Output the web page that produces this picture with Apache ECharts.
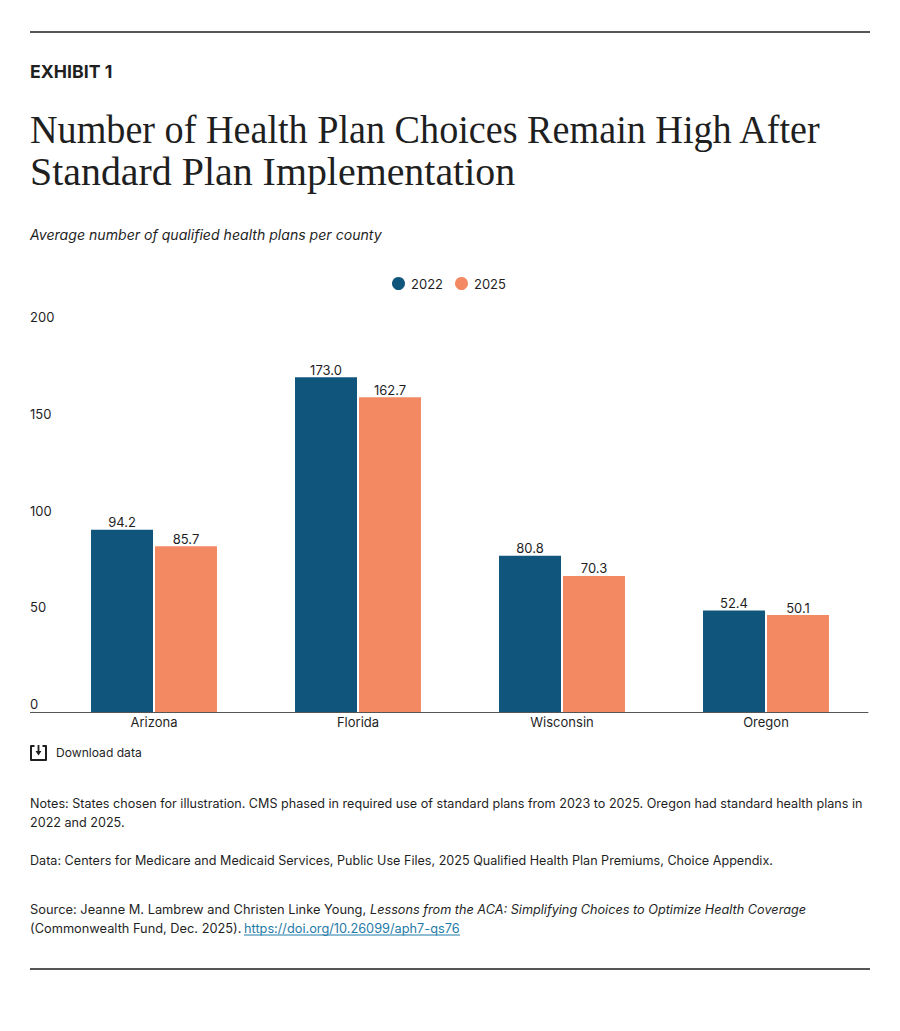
<!DOCTYPE html>
<html><head><meta charset="utf-8">
<style>html,body{margin:0;padding:0;background:#fff}#c{width:900px;height:1031px}</style>
<script src="https://cdn.jsdelivr.net/npm/echarts@6/dist/echarts.min.js"></script>
</head><body><div id="c"></div>
<script>
const categories = ['Arizona','Florida','Wisconsin','Oregon'];
const values2022 = [94.2,173.0,80.8,52.4];
const values2025 = [85.7,162.7,70.3,50.1];
const yTicks = [0,50,100,150,200];
const SANS = 'Inter, "Noto Sans", sans-serif';
const SERIF = '"Liberation Serif", "DejaVu Serif", serif';
const INK = '#1f1f1f';
const chart = echarts.init(document.getElementById('c'), null, {renderer:'svg'});
function txt(x,y,text,fs,extra,el){
  return Object.assign({type:'text',x:x,y:y,silent:true,style:Object.assign({text:text,fill:INK,font:'400 '+fs+'px '+SANS,textVerticalAlign:'middle'},extra||{})},el||{});
}
const barLabel = {show:true,position:'top',distance:1,color:INK,fontFamily:SANS,fontSize:13,formatter:p=>p.value.toFixed(1)};
chart.setOption({
  animation:false,
  backgroundColor:'#fff',
  legend:{top:272,left:387,itemGap:12,itemWidth:13,itemHeight:13,icon:'circle',
    textStyle:{color:INK,fontFamily:SANS,fontSize:13,padding:[0,0,4,1]},data:['2022','2025']},
  grid:{left:52,right:32,top:325,height:387},
  xAxis:{type:'category',data:categories,
    axisLine:{lineStyle:{color:'#555',width:1}},axisTick:{show:false},
    axisLabel:{color:INK,fontFamily:SANS,fontSize:13,margin:3,verticalAlign:'top'}},
  yAxis:{type:'value',min:0,max:200,interval:50,
    axisLine:{show:false},axisTick:{show:false},splitLine:{show:false},
    axisLabel:{color:INK,fontFamily:SANS,fontSize:13,align:'left',margin:22,verticalAlign:'bottom',lineHeight:16,
      formatter:v=>yTicks.includes(v)?String(v):''}},
  series:[
    {name:'2022',type:'bar',data:values2022,barWidth:62,barGap:'3.2%',itemStyle:{color:'#10567c'},label:barLabel},
    {name:'2025',type:'bar',data:values2025,barWidth:62,itemStyle:{color:'#f38962'},label:barLabel}
  ],
  graphic:{elements:[
    {type:'line',silent:true,shape:{x1:30,y1:32,x2:870,y2:32},style:{stroke:'#555',lineWidth:2}},
    {type:'line',silent:true,shape:{x1:30,y1:969,x2:870,y2:969},style:{stroke:'#555',lineWidth:2}},
    {type:'line',silent:true,shape:{x1:30,y1:712.5,x2:52,y2:712.5},style:{stroke:'#555',lineWidth:1}},
    txt(30,71.5,'EXHIBIT 1',17.7,{font:'700 17.7px '+SANS}),
    txt(30,130,'Number of Health Plan Choices Remain High After',39,{font:'400 39px '+SERIF},{scaleX:0.979}),
    txt(30,172,'Standard Plan Implementation',39,{font:'400 39px '+SERIF},{scaleX:1.023}),
    txt(30,234.5,'Average number of qualified health plans per county',14.1,{font:'italic 400 14.1px '+SANS}),
    {type:'group',silent:true,children:[
      {type:'polyline',shape:{points:[[34.5,746],[31,746],[31,760],[46,760],[46,746],[42.5,746]]},style:{stroke:INK,lineWidth:2,fill:'none',lineJoin:'round'}},
      {type:'line',shape:{x1:38.5,y1:745,x2:38.5,y2:753},style:{stroke:INK,lineWidth:1.8}},
      {type:'polygon',shape:{points:[[35.5,751],[41.5,751],[38.5,755.5]]},style:{fill:INK}}
    ]},
    txt(56,752.5,'Download data',12.1),
    txt(30,803,'Notes: States chosen for illustration. CMS phased in required use of standard plans from 2023 to 2025. Oregon had standard health plans in',12.6),
    txt(30,822,'2022 and 2025.',12.6),
    txt(30,860,'Data: Centers for Medicare and Medicaid Services, Public Use Files, 2025 Qualified Health Plan Premiums, Choice Appendix.',12.6),
    txt(30,909,'Source: Jeanne M. Lambrew and Christen Linke Young,',12.85),
    txt(370,909,'Lessons from the ACA: Simplifying Choices to Optimize Health Coverage',12.7,{font:'italic 400 12.7px '+SANS}),
    txt(30,928,'(Commonwealth Fund, Dec. 2025).',12.8),
    txt(244,928,'https://doi.org/10.26099/aph7-qs76',12.76,{fill:'#1f7ba8'}),
    {type:'line',silent:true,shape:{x1:244,y1:935,x2:460,y2:935},style:{stroke:'#1f7ba8',lineWidth:1}}
  ]}
});
</script></body></html>
